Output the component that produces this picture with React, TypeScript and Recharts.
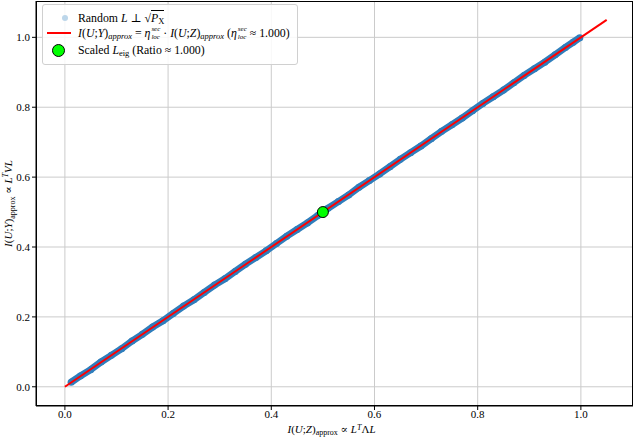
import React from "react";
import { ScatterChart, Scatter, XAxis, YAxis, CartesianGrid } from "recharts";

// random L samples: I(U;Z) vs I(U;Y), both normalised
const sampleX = [
  0.012, 0.03, 0.05, 0.07, 0.09, 0.11, 0.13, 0.15, 0.17, 0.19, 0.21, 0.23, 0.25,
  0.27, 0.29, 0.31, 0.33, 0.35, 0.37, 0.39, 0.41, 0.43, 0.45, 0.47, 0.49, 0.51,
  0.53, 0.55, 0.57, 0.59, 0.61, 0.63, 0.65, 0.67, 0.69, 0.71, 0.73, 0.75, 0.77,
  0.79, 0.81, 0.83, 0.85, 0.87, 0.89, 0.91, 0.93, 0.95, 0.97, 0.985, 0.998,
];
const sampleY = [
  0.013, 0.031, 0.049, 0.071, 0.09, 0.109, 0.131, 0.15, 0.171, 0.189, 0.21, 0.231,
  0.249, 0.27, 0.291, 0.309, 0.33, 0.351, 0.37, 0.389, 0.41, 0.431, 0.45, 0.469,
  0.49, 0.511, 0.53, 0.549, 0.571, 0.59, 0.609, 0.63, 0.651, 0.67, 0.689, 0.71,
  0.731, 0.75, 0.769, 0.79, 0.811, 0.83, 0.849, 0.87, 0.891, 0.91, 0.929, 0.95,
  0.971, 0.986, 0.999,
];
const fitX = [0, 1.05];
const eta = 1.0;
const eigPoint = { x: 0.5, y: 0.5 };
const ticks = [0, 0.2, 0.4, 0.6, 0.8, 1.0];

const samples = sampleX.map((x, i) => ({ x, y: sampleY[i] }));
const fitLine = fitX.map((x) => ({ x, y: eta * x }));

const FONT = "'Liberation Serif', 'DejaVu Serif', serif";

const sub = (s: string) => (
  <sub style={{ fontSize: 8.5, verticalAlign: "-2px", lineHeight: 0 }}>{s}</sub>
);
const EtaLoc = () => (
  <span style={{ display: "inline-flex", alignItems: "center" }}>
    <i>η</i>
    <span
      style={{
        display: "inline-flex",
        flexDirection: "column",
        fontSize: 7,
        lineHeight: "8px",
        fontStyle: "italic",
        marginLeft: 1,
      }}
    >
      <span>sec</span>
      <span>loc</span>
    </span>
  </span>
);

const XLabel = (props: any) => {
  const vb = props.viewBox;
  const cx = vb.x + vb.width / 2 - 3;
  return (
    <text x={cx} y={433} textAnchor="middle" fontFamily={FONT} fontSize={11} fill="#000">
      <tspan fontStyle="italic">I</tspan>
      <tspan>(</tspan>
      <tspan fontStyle="italic">U</tspan>
      <tspan>;</tspan>
      <tspan fontStyle="italic">Z</tspan>
      <tspan>)</tspan>
      <tspan fontSize={8} dy={2}>approx</tspan>
      <tspan dy={-2}> ∝ </tspan>
      <tspan fontStyle="italic">L</tspan>
      <tspan fontSize={8} dy={-3} fontStyle="italic">T</tspan>
      <tspan dy={3}>Λ</tspan>
      <tspan fontStyle="italic">L</tspan>
    </text>
  );
};

const YLabel = (props: any) => {
  const vb = props.viewBox;
  const cy = vb.y + vb.height / 2;
  const x = 12;
  return (
    <text
      x={x}
      y={cy}
      transform={`rotate(-90 ${x} ${cy})`}
      textAnchor="middle"
      fontFamily={FONT}
      fontSize={11}
      fill="#000"
    >
      <tspan fontStyle="italic">I</tspan>
      <tspan>(</tspan>
      <tspan fontStyle="italic">U</tspan>
      <tspan>;</tspan>
      <tspan fontStyle="italic">Y</tspan>
      <tspan>)</tspan>
      <tspan fontSize={8} dy={3}>approx</tspan>
      <tspan dy={-3}> ∝ </tspan>
      <tspan fontStyle="italic">L</tspan>
      <tspan fontSize={8} dy={-4} fontStyle="italic">T</tspan>
      <tspan dy={4} fontStyle="italic">VL</tspan>
    </text>
  );
};

const Legend = () => (
  <div
    style={{
      position: "absolute",
      left: 42,
      top: 4,
      width: 256,
      height: 61,
      border: "1px solid #d0d0d0",
      borderRadius: 3,
      background: "rgba(255,255,255,0.85)",
      fontFamily: FONT,
      fontSize: 11.8,
      color: "#000",
      boxSizing: "border-box",
    }}
  >
    <div style={{ position: "absolute", left: 10, top: 5, height: 16, display: "flex", alignItems: "center" }}>
      <span style={{ width: 6, height: 6, borderRadius: 3, background: "#bcd6ea", display: "inline-block", marginLeft: 9 }} />
      <span style={{ position: "absolute", left: 25, whiteSpace: "nowrap" }}>
        Random <i>L</i> ⊥ √<span style={{ borderTop: "1px solid #000" }}><i>P</i>{sub("X")}</span>
      </span>
    </div>
    <div style={{ position: "absolute", left: 2, top: 20, height: 16, display: "flex", alignItems: "center" }}>
      <span style={{ width: 24, height: 2, background: "#ff0000", display: "inline-block", marginLeft: 2 }} />
      <span style={{ position: "absolute", left: 33, whiteSpace: "nowrap", display: "flex", alignItems: "center" }}>
        <i>I</i>(<i>U</i>;<i>Y</i>)<i>{sub("approx")}</i>&nbsp;=&nbsp;<EtaLoc />&nbsp;·&nbsp;<i>I</i>(<i>U</i>;<i>Z</i>)
        <i>{sub("approx")}</i>&nbsp;(<EtaLoc />&nbsp;≈ 1.000)
      </span>
    </div>
    <div style={{ position: "absolute", left: 8, top: 37, height: 16, display: "flex", alignItems: "center" }}>
      <span
        style={{
          width: 11,
          height: 11,
          borderRadius: 7,
          background: "#00ff00",
          border: "1px solid #000",
          display: "inline-block",
          marginLeft: 1,
        }}
      />
      <span style={{ position: "absolute", left: 27, whiteSpace: "nowrap" }}>
        Scaled <i>L</i>{sub("eig")} (Ratio ≈ 1.000)
      </span>
    </div>
  </div>
);

const fmt = (v: number) => v.toFixed(1);

export default function App() {
  return (
    <div style={{ position: "absolute", left: 0, top: 0, width: 635, height: 439, background: "#fff" }}>
      <ScatterChart width={635} height={439} margin={{ top: 1, right: 2, bottom: 0, left: 0 }}>
        <CartesianGrid stroke="#cbcbcb" strokeWidth={1} horizontalValues={ticks} verticalValues={ticks} />
        <XAxis
          type="number"
          dataKey="x"
          domain={[-0.056, 1.101]}
          ticks={ticks}
          tickFormatter={fmt}
          allowDataOverflow
          height={33}
          stroke="#000"
          tickSize={4}
          tick={{ fontFamily: FONT, fontSize: 11, fill: "#000", dy: -2 }}
          label={{ content: XLabel }}
        />
        <YAxis
          type="number"
          dataKey="y"
          domain={[-0.055, 1.104]}
          ticks={ticks}
          tickFormatter={fmt}
          allowDataOverflow
          width={36}
          stroke="#000"
          tickSize={4}
          tick={{ fontFamily: FONT, fontSize: 11, fill: "#000" }}
          label={{ content: YLabel }}
        />
        <Scatter
          data={samples}
          fill="#2f7ebc"
          line={{ stroke: "#2f7ebc", strokeWidth: 7 }}
          shape={(p: any) => <circle cx={p.cx} cy={p.cy} r={3.5} fill="#2f7ebc" />}
          isAnimationActive={false}
        />
        <Scatter
          data={fitLine}
          line={{ stroke: "#ff0000", strokeWidth: 2 }}
          shape={() => <g />}
          isAnimationActive={false}
        />
        <Scatter
          data={[eigPoint]}
          shape={(p: any) => <circle cx={p.cx} cy={p.cy} r={5.5} fill="#00ff00" stroke="#000" strokeWidth={1} />}
          isAnimationActive={false}
        />
      </ScatterChart>
      <div
        style={{
          position: "absolute",
          left: 36,
          top: 1,
          width: 597,
          height: 405,
          border: "1px solid #000",
          boxSizing: "border-box",
          pointerEvents: "none",
        }}
      />
      <Legend />
    </div>
  );
}
